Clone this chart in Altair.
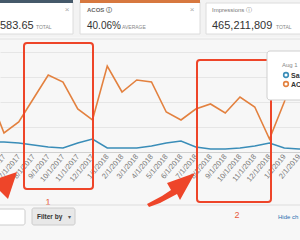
import json
import altair as alt
import pandas as pd

FONT = "Liberation Sans"

months = ["5/1/2017", "6/1/2017", "7/1/2017", "8/1/2017", "9/1/2017", "10/1/2017",
          "11/1/2017", "12/1/2017", "1/1/2018", "2/1/2018", "3/1/2018", "4/1/2018",
          "5/1/2018", "6/1/2018", "7/1/2018", "8/1/2018", "9/1/2018", "10/1/2018",
          "11/1/2018", "12/1/2018", "1/1/2019", "2/1/2019", "3/1/2019"]
acos = [22.8, 7.6, 12.0, 21.4, 30.8, 28.0, 17.2, 12.8, 34.4, 24.0, 28.8, 28.0,
        16.0, 12.8, 17.2, 19.2, 15.6, 22.0, 18.0, 5.2, 20.0, 36.8, 40.0]
sales = [4.0, 4.0, 3.6, 2.8, 2.0, 1.6, 3.6, 5.2, 1.6, 1.6, 1.6, 2.4,
         3.6, 4.4, 2.0, 1.2, 1.2, 1.6, 2.4, 3.6, 1.6, 1.2, 1.4]
grid_values = [10, 20, 30, 40]

ORANGE = "#e3813f"
BLUE = "#3a8db8"
RED = "#ee4529"

idx = list(range(len(months)))
df = pd.DataFrame({"i": idx + idx,
                   "v": acos + sales,
                   "s": ["ACOS"] * len(months) + ["Sales"] * len(months)})

xscale = alt.Scale(domain=[0.7288, 21.0678], nice=False, zero=False)
yscale = alt.Scale(domain=[-35.2, 60.8], nice=False, zero=False)
label_expr = json.dumps(months) + "[datum.value]"

one = pd.DataFrame({"d": [0]})


def rect(x, y, x2, y2, fill="white", stroke=None, sw=1.0, r=0, op=1.0):
    kw = dict(fill=fill, cornerRadius=r, fillOpacity=op)
    if stroke:
        kw.update(stroke=stroke, strokeWidth=sw)
    return alt.Chart(one).mark_rect(**kw).encode(
        x=alt.value(x), y=alt.value(y), x2=alt.value(x2), y2=alt.value(y2))


def txt(s, x, y, size, color, weight="normal", align="left"):
    return alt.Chart(one).mark_text(
        text=s, fontSize=size, color=color, fontWeight=weight, align=align,
        baseline="alphabetic", font=FONT).encode(x=alt.value(x), y=alt.value(y))


def rule(x, y, x2, y2, color="#dddddd", sw=1.0):
    return alt.Chart(one).mark_rule(color=color, strokeWidth=sw).encode(
        x=alt.value(x), y=alt.value(y), x2=alt.value(x2), y2=alt.value(y2))


def shape(path, x, y, color):
    return alt.Chart(one).mark_point(
        shape=path, size=4, filled=True, fill=color, strokeWidth=0, opacity=1).encode(
        x=alt.value(x), y=alt.value(y))


def ring(x, y, color):
    return alt.Chart(one).mark_point(
        shape="circle", size=22, filled=False, stroke=color, strokeWidth=1.6,
        opacity=1).encode(x=alt.value(x), y=alt.value(y))


base = alt.Chart(df).encode(
    x=alt.X("i:Q", scale=xscale,
            axis=alt.Axis(values=idx, labelExpr=label_expr, labelAngle=-50,
                          labelFontSize=7.5, labelColor="#7a7a7a", labelFont=FONT,
                          ticks=False, grid=False, domain=True, domainColor="#d0d0d0",
                          offset=-88, title=None, labelPadding=3, labelOverlap=False,
                          labelBound=False, labelFlush=False)),
    y=alt.Y("v:Q", scale=yscale,
            axis=alt.Axis(values=grid_values, grid=True, gridColor="#e6e6e6",
                          labels=False, ticks=False, domain=False, title=None)),
)
lines = base.mark_line(strokeWidth=1.6, clip=True).encode(
    color=alt.Color("s:N", scale=alt.Scale(domain=["ACOS", "Sales"], range=[ORANGE, BLUE]),
                    legend=None),
    detail="s:N")

layers = [
    # header
    rect(-5, 0, 300, 37, fill="#f3f3f3"),
    rect(-5, 2, 73, 34, fill="white", stroke="#dcdcdc"),
    rect(-5, 0, 73, 3, fill="#45596a"),
    rect(80, 2, 200, 34, fill="white", stroke="#dcdcdc"),
    rect(80, 0, 200, 3, fill="#d7783f"),
    rect(206, 3, 305, 34, fill="white", stroke="#dcdcdc"),
    txt("583.65", 0, 29, 11, "#333333"),
    txt("TOTAL", 36, 29, 5, "#888888"),
    txt("×", 67, 12, 8, "#aaaaaa", align="center"),
    txt("ACOS ⓘ", 87, 12, 6, "#666666", weight="bold"),
    txt("40.06%", 87, 29, 10, "#333333"),
    txt("AVERAGE", 122, 29, 5, "#888888"),
    txt("×", 192, 12, 8, "#aaaaaa", align="center"),
    txt("Impressions ⓘ", 212, 12, 6, "#777777"),
    txt("465,211,809", 212, 29, 11, "#333333"),
    txt("TOTAL", 276, 29, 5, "#888888"),
    rule(-5, 39, 305, 39, color="#e2e2e2"),
    # chart
    lines,
    # annotations
    rect(24, 43, 93, 189, fill="white", op=0, stroke=RED, sw=2, r=3),
    rect(197, 60, 271, 202, fill="white", op=0, stroke=RED, sw=2, r=3),
    txt("1", 48, 205, 9, "#e85a3c", align="center"),
    txt("2", 237, 218, 9, "#e85a3c", align="center"),
    # tooltip
    rect(267, 51, 310, 100, fill="white", stroke="#cfcfcf", r=3),
    txt("Aug 1", 282, 67, 6, "#888888"),
    ring(286, 75, BLUE),
    ring(286, 84, ORANGE),
    txt("Sa", 291, 78, 7, "#333333", weight="bold"),
    txt("AC", 291, 87, 7, "#333333", weight="bold"),
    # bottom bar
    rule(-5, 205, 305, 205, color="#dddddd"),
    rect(-5, 209, 25, 225, fill="white", stroke="#cccccc", r=2),
    rect(32, 208, 75, 225, fill="#e8e8e8", stroke="#cccccc", r=2),
    txt("Filter by", 37, 219, 6.5, "#333333", weight="bold"),
    txt("▾", 68, 219, 6, "#555555"),
    txt("Hide ch", 278, 219, 6, "#2a6fb0"),
    # arrows
    shape("M0,0L-27,9L-9,27Z", 17, 172, RED),
    shape("M-48,31L-33,23L-24,17L-28,10L0,0L-15,27L-18,21L-35,30L-46,34Z", 195, 173, RED),
]

chart = alt.layer(*layers).properties(
    width=300, height=240, padding=0,
    autosize=alt.AutoSizeParams(type="none"),
    background="#f7f7f7",
).configure_view(strokeWidth=0)

chart.save("out.html", embed_options={"renderer": "svg", "actions": False})
